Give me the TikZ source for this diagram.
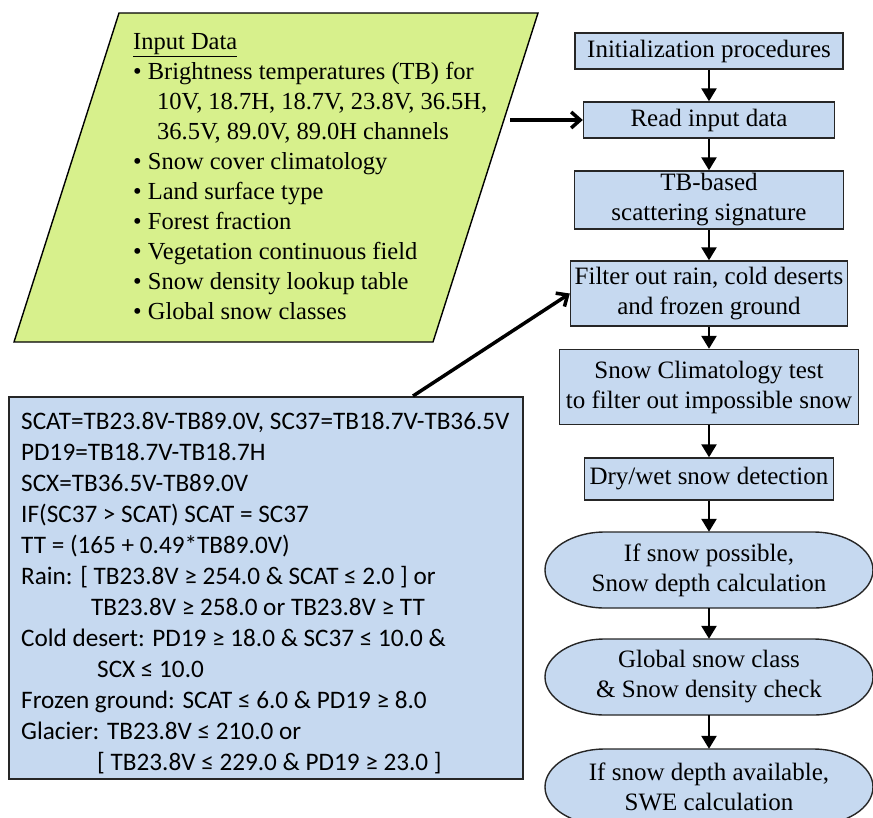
\documentclass[tikz,border=0pt]{standalone}
\usepackage{fontspec}
\setmainfont{Liberation Serif}
\newfontfamily\calfont{Carlito}
\usetikzlibrary{arrows.meta}

\definecolor{boxblue}{RGB}{198,217,240}
\definecolor{inlime}{RGB}{215,240,140}

\tikzset{
  procbox/.style={draw=black!85, line width=1.4pt, fill=boxblue, align=center, inner sep=0pt,
    font=\fontsize{25}{30}\selectfont},
  stadline/.style={draw=black!85, line width=1.4pt, fill=boxblue},
  stadtext/.style={align=center, inner sep=0pt, minimum width=328pt, minimum height=76pt,
    font=\fontsize{25}{30}\selectfont},
  formbox/.style={draw=black!85, line width=1.4pt, fill=boxblue, inner sep=0pt},
  formtxt/.style={align=left, inner sep=0pt, font=\calfont\fontsize{25.2}{31}\selectfont},
  flowarr/.style={line width=2.5pt, -{Triangle[length=13pt,width=15pt]}},
  datarr/.style={line width=3.5pt, -{Straight Barb[length=9pt,width=16pt]}},
}

\begin{document}
\begin{tikzpicture}[x=1pt, y=-1pt]
\useasboundingbox (0,0) rectangle (873,817);
\def\xm{709}

% input data
\filldraw[draw=black, line width=1.4pt, fill=inlime] (119,13) -- (538,13) -- (433,342) -- (14,342) -- cycle;
\node[anchor=north west, align=left, inner sep=0pt, font=\fontsize{24.5}{30}\selectfont] (indtxt) at (133,33)
  {\underline{Input Data}\\
   • Brightness temperatures (TB) for\\
   \hspace*{24pt}10V, 18.7H, 18.7V, 23.8V, 36.5H,\\
   \hspace*{24pt}36.5V, 89.0V, 89.0H channels\\
   • Snow cover climatology\\
   • Land surface type\\
   • Forest fraction\\
   • Vegetation continuous field\\
   • Snow density lookup table\\
   • Global snow classes};

% thresholds
\node[formbox, minimum width=514pt, minimum height=382pt] (form) at (266,588) {};
\node[formtxt, anchor=north west] (formt) at (21,412)
  {SCAT=TB23.8V-TB89.0V, SC37=TB18.7V-TB36.5V\\
   PD19=TB18.7V-TB18.7H\\
   SCX=TB36.5V-TB89.0V\\
   IF(SC37 > SCAT) SCAT = SC37\\
   TT = (165 + 0.49*TB89.0V)\\
   Rain: [ TB23.8V ≥ 254.0 \& SCAT ≤ 2.0 ] or\\
   \hspace*{70pt}TB23.8V ≥ 258.0 or TB23.8V ≥ TT\\
   Cold desert: PD19 ≥ 18.0 \& SC37 ≤ 10.0 \&\\
   \hspace*{76pt}SCX ≤ 10.0\\
   Frozen ground: SCAT ≤ 6.0 \& PD19 ≥ 8.0\\
   Glacier: TB23.8V ≤ 210.0 or\\
   \hspace*{76pt}[ TB23.8V ≤ 229.0 \& PD19 ≥ 23.0 ]};

% processing steps
\node[procbox, minimum width=268pt, minimum height=36pt] (init) at (\xm,51) {Initialization procedures};
\node[procbox, minimum width=251pt, minimum height=36pt] (read) at (\xm,120) {Read input data};
\node[procbox, minimum width=269pt, minimum height=58pt] (tbsig) at (\xm,200) {TB-based\\scattering signature};
\node[procbox, minimum width=277pt, minimum height=65pt] (filt) at (\xm,293.5) {Filter out rain, cold deserts\\and frozen ground};
\node[procbox, minimum width=299pt, minimum height=75pt] (clim) at (\xm,387) {Snow Climatology test\\to filter out impossible snow};
\node[procbox, minimum width=249pt, minimum height=42pt] (dryw) at (\xm,479) {Dry/wet snow detection};

\foreach \nm/\yy/\txt in {sdep/570/{If snow possible,\\Snow depth calculation},
    gcls/677/{Global snow class\\\& Snow density check},
    swe/787/{If snow depth available,\\SWE calculation}} {
  \filldraw[stadline] (\xm-104,\yy-38) -- (\xm+104,\yy-38)
    arc[start angle=-90, end angle=90, x radius=60, y radius=38] -- (\xm-104,\yy+38)
    arc[start angle=90, end angle=270, x radius=60, y radius=38] -- cycle;
  \node[stadtext] (\nm) at (\xm,\yy) {\txt};
}

\foreach \a/\b in {init/read, read/tbsig, tbsig/filt, filt/clim, clim/dryw, dryw/sdep, sdep/gcls, gcls/swe}
  \draw[flowarr] (\a) -- (\b);

\coordinate (inpt) at (510,120);
\coordinate (fmpt) at (413,396);
\draw[datarr] (inpt) -- (read.west);
\draw[datarr] (fmpt) -- (filt.west);

\end{tikzpicture}
\end{document}
